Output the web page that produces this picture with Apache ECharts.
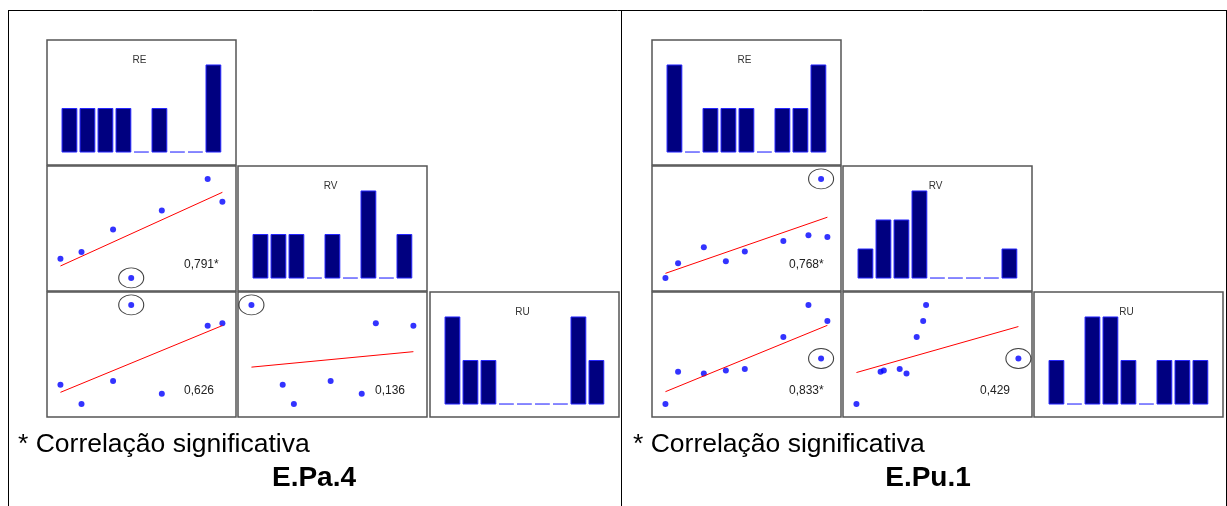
<!DOCTYPE html>
<html><head><meta charset="utf-8">
<script src="https://cdn.jsdelivr.net/npm/echarts@6/dist/echarts.min.js"></script>
<style>html,body{margin:0;padding:0;background:#fff}#c{width:1227px;height:506px}</style>
</head><body><div id="c"></div>
<script>
// ---- data (relative scale 0-100 for each variable) ----
var varNames = ['RE', 'RV', 'RU'];

// E.Pa.4 : 7 observations
var paRE = [0, 13.0, 32.5, 43.7, 62.6, 90.9, 100];
var paRV = [19.3, 26.2, 48.9, 0, 68.1, 100, 76.8];
var paRU = [19.3, 0, 23.1, 100, 10.2, 79.0, 81.4];
var paOutlier = 3;
var paHistRE = [1, 1, 1, 1, 0, 1, 0, 0, 2];
var paHistRV = [1, 1, 1, 0, 1, 0, 2, 0, 1];
var paHistRU = [2, 1, 1, 0, 0, 0, 0, 2, 1];
var paCorr = ['0,791*', '0,626', '0,136']; // RE-RV, RE-RU, RV-RU

// E.Pu.1 : 9 observations
var puRE = [0, 7.8, 23.7, 37.3, 49.0, 72.8, 88.3, 96.1, 100];
var puRV = [0, 14.9, 30.9, 16.9, 26.7, 37.2, 43.0, 100, 41.2];
var puRU = [0, 32.6, 30.8, 33.8, 35.3, 67.5, 100, 45.8, 83.7];
var puOutlier = 7;
var puHistRE = [2, 0, 1, 1, 1, 0, 1, 1, 2];
var puHistRV = [1, 2, 2, 3, 0, 0, 0, 0, 1];
var puHistRU = [1, 0, 2, 2, 1, 0, 1, 1, 1];
var puCorr = ['0,768*', '0,833*', '0,429'];

var matrixLabels = ['E.Pa.4', 'E.Pu.1'];
var noteText = '* Correlação significativa';

// ---- layout ----
var PW = 189, PH = 125;
var rowY = [40, 166, 292];
var FONT = '"Liberation Sans", Arial, Helvetica, sans-serif';
var matrices = [
  { vars: [paRE, paRV, paRU], hist: [paHistRE, paHistRV, paHistRU], corr: paCorr, out: paOutlier,
    colX: [47, 238, 430], label: matrixLabels[0], noteX: 18, labelX: 314 },
  { vars: [puRE, puRV, puRU], hist: [puHistRE, puHistRV, puHistRU], corr: puCorr, out: puOutlier,
    colX: [652, 843, 1034], label: matrixLabels[1], noteX: 633, labelX: 928 }
];
var XR = [-8.3, 108.4];   // value range of each variable incl. padding
var YR = [-13.2, 113];
var NBINS = 9, BIN_W = 100 / NBINS;

var grids = [], xAxes = [], yAxes = [], series = [], graphics = [];

function addGrid(x, y, xr, yr) {
  grids.push({ left: x, top: y, width: PW, height: PH, show: true,
    borderColor: '#555', borderWidth: 1.5, backgroundColor: '#fff' });
  var i = grids.length - 1;
  xAxes.push({ type: 'value', gridIndex: i, min: xr[0], max: xr[1], show: false });
  yAxes.push({ type: 'value', gridIndex: i, min: yr[0], max: yr[1], show: false });
  return i;
}

function ols(x, y) {
  var n = x.length, mx = 0, my = 0, sxy = 0, sxx = 0;
  for (var i = 0; i < n; i++) { mx += x[i]; my += y[i]; }
  mx /= n; my /= n;
  for (var j = 0; j < n; j++) { sxy += (x[j] - mx) * (y[j] - my); sxx += (x[j] - mx) * (x[j] - mx); }
  var b = sxy / sxx; return [my - b * mx, b];
}

function renderHist(params, api) {
  var i = api.value(0), c = api.value(1);
  var p0 = api.coord([i * BIN_W, 0]);
  var p1 = api.coord([(i + 1) * BIN_W, c]);
  var x = p0[0] + 1.6, w = p1[0] - p0[0] - 3.2;
  if (c === 0) {
    return { type: 'line', shape: { x1: x, y1: p0[1], x2: x + w, y2: p0[1] },
      style: { stroke: '#6060ff', lineWidth: 1.5 } };
  }
  return { type: 'rect', shape: { x: x, y: p1[1], width: w, height: p0[1] - p1[1] },
    style: { fill: '#000080', stroke: '#2626ff', lineWidth: 1 } };
}

matrices.forEach(function (m) {
  var corrIdx = 0;
  for (var r = 0; r < 3; r++) {
    for (var c = 0; c <= r; c++) {
      var px = m.colX[c], py = rowY[r];
      if (r === c) {
        var counts = m.hist[r];
        var M = Math.max.apply(null, counts);
        var g = addGrid(px, py, XR, [-0.149 * M, 1.287 * M]);
        series.push({ type: 'custom', xAxisIndex: g, yAxisIndex: g, renderItem: renderHist,
          data: counts.map(function (v, i) { return [i, v]; }), silent: true });
        graphics.push({ type: 'text', x: px + PW / 2 - 2, y: py + 20,
          style: { text: varNames[r], font: '10px ' + FONT, fill: '#333',
            textAlign: 'center', textVerticalAlign: 'middle', align: 'center', verticalAlign: 'middle' } });
      } else {
        var xs = m.vars[c], ys = m.vars[r];
        var g2 = addGrid(px, py, XR, YR);
        var pts = xs.map(function (v, i) { return [v, ys[i]]; });
        var fit = ols(xs, ys);
        var xmin = Math.min.apply(null, xs), xmax = Math.max.apply(null, xs);
        series.push({ type: 'line', xAxisIndex: g2, yAxisIndex: g2, symbol: 'none', silent: true,
          lineStyle: { color: '#ff0000', width: 1 },
          data: [[xmin, fit[0] + fit[1] * xmin], [xmax, fit[0] + fit[1] * xmax]] });
        series.push({ type: 'scatter', xAxisIndex: g2, yAxisIndex: g2, symbolSize: 6, silent: true,
          itemStyle: { color: '#0000ff' }, data: pts });
        series.push({ type: 'scatter', xAxisIndex: g2, yAxisIndex: g2, symbol: 'circle', symbolSize: [25, 20],
          silent: true, itemStyle: { color: 'rgba(0,0,0,0)', borderColor: '#111', borderWidth: 1 },
          data: [pts[m.out]] });
        graphics.push({ type: 'text', x: px + 137, y: py + 99,
          style: { text: m.corr[corrIdx++], font: '12px ' + FONT, fill: '#222',
            textVerticalAlign: 'middle', verticalAlign: 'middle' } });
      }
    }
  }
  graphics.push({ type: 'text', x: m.noteX, y: 445,
    style: { text: noteText, font: '26.5px ' + FONT, fill: '#000', textVerticalAlign: 'middle', verticalAlign: 'middle' } });
  graphics.push({ type: 'text', x: m.labelX, y: 478,
    style: { text: m.label, font: 'bold 28px ' + FONT, fill: '#000',
      textAlign: 'center', align: 'center', textVerticalAlign: 'middle', verticalAlign: 'middle' } });
});

// outer frame
[[8, 10.5, 1227, 10.5], [8.5, 10, 8.5, 506], [621.5, 10, 621.5, 506], [1226.5, 10, 1226.5, 506]].forEach(function (l) {
  graphics.push({ type: 'line', shape: { x1: l[0], y1: l[1], x2: l[2], y2: l[3] },
    style: { stroke: '#000', lineWidth: 1 } });
});

var chart = echarts.init(document.getElementById('c'), null, { renderer: 'canvas' });
chart.setOption({
  animation: false,
  backgroundColor: '#fff',
  grid: grids, xAxis: xAxes, yAxis: yAxes, series: series,
  graphic: { elements: graphics }
});
</script></body></html>
